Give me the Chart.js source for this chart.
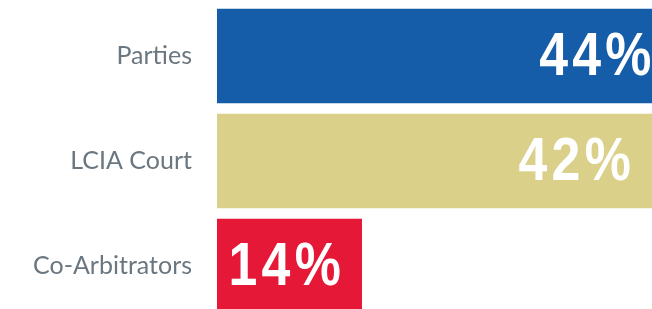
<!DOCTYPE html>
<html>
<head>
<meta charset="utf-8">
<script src="https://cdn.jsdelivr.net/npm/chart.js@4/dist/chart.umd.min.js"></script>
<style>
  html, body { margin: 0; padding: 0; background: #ffffff; overflow: hidden; }
  #wrap { position: relative; width: 652px; height: 320px; }
</style>
</head>
<body>
<div id="wrap"><canvas id="c"></canvas></div>
<script>
const categories = ["Parties", "LCIA Court", "Co-Arbitrators"];
const values = [44, 42, 14];
const barColors = ["#155ca9", "#dbd08a", "#e51937"];

const valueLabels = {
  id: "valueLabels",
  afterDatasetsDraw(chart) {
    const ctx = chart.ctx;
    const meta = chart.getDatasetMeta(0);
    const sx = 0.85;
    ctx.save();
    ctx.font = "bold 61px 'Liberation Sans', Arial, sans-serif";
    ctx.fillStyle = "#ffffff";
    ctx.textAlign = "right";
    ctx.textBaseline = "alphabetic";
    try { ctx.letterSpacing = "5px"; } catch (e) {}
    meta.data.forEach((bar, i) => {
      ctx.save();
      ctx.translate(bar.x - 17, bar.y + 19);
      ctx.scale(sx, 1);
      ctx.fillText(values[i] + "%", 0, 0);
      ctx.restore();
    });
    ctx.restore();
  }
};

new Chart(document.getElementById("c"), {
  type: "bar",
  data: {
    labels: categories,
    datasets: [{
      data: values,
      backgroundColor: barColors,
      borderWidth: 0,
      categoryPercentage: 1,
      barPercentage: 0.9
    }]
  },
  options: {
    indexAxis: "y",
    responsive: true,
    maintainAspectRatio: false,
    animation: false,
    layout: { padding: { top: 3.5, bottom: 1.5, left: 0, right: 0 } },
    plugins: { legend: { display: false }, tooltip: { enabled: false }, title: { display: false } },
    scales: {
      x: { display: false, min: 0, max: 42 },
      y: {
        afterFit(scale) {
          scale.width = 217;
          scale.paddingTop = 0;
          scale.paddingBottom = 0;
        },
        grid: { display: false, drawTicks: false },
        border: { display: false },
        ticks: {
          padding: 25,
          color: "#6b7780",
          font: { family: "Lato, 'Open Sans', sans-serif", size: 25 }
        }
      }
    }
  },
  plugins: [valueLabels]
});
</script>
</body>
</html>
